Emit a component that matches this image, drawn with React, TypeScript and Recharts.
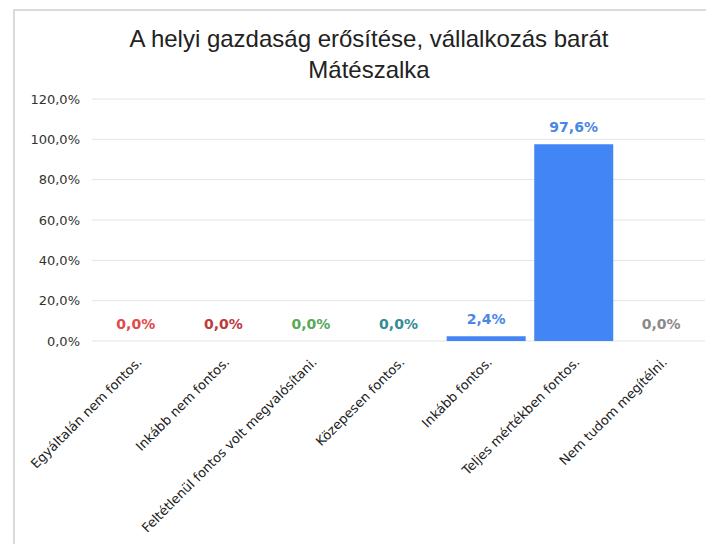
import React from 'react';
import { ComposedChart, Bar, Scatter, XAxis, YAxis, CartesianGrid, Cell } from 'recharts';

const categories = [
  'Egyáltalán nem fontos.',
  'Inkább nem fontos.',
  'Feltétlenül fontos volt megvalósítani.',
  'Közepesen fontos.',
  'Inkább fontos.',
  'Teljes mértékben fontos.',
  'Nem tudom megítélni.',
];
const shares = [0, 0, 0, 0, 2.4, 97.6, 0];
const yTicks = [0, 20, 40, 60, 80, 100, 120];

const barColors = ['#e06060', '#b8403c', '#5aa65a', '#3a8f96', '#4285f4', '#4285f4', '#8a8a8a'];
const labelColors = ['#e04a4a', '#bd3b3a', '#58a858', '#348c94', '#4a86e8', '#4a86e8', '#8a8a8a'];

const data = categories.map((name, i) => ({ name, value: shares[i], color: labelColors[i] }));

const fmt = (v: number) => `${v.toFixed(1).replace('.', ',')}%`;

const XTick = (props: any) => {
  const { x, y, payload } = props;
  return (
    <g transform={`translate(${x + 4},${y + 11})`}>
      <text transform="rotate(-45)" textAnchor="end" fontSize={13} fill="#222" dy={4} fontFamily="'DejaVu Sans', sans-serif">
        {payload.value}
      </text>
    </g>
  );
};

// value labels drawn as a scatter so zero bars get a label too
const ValueLabel = (props: any) => {
  const { cx, cy, payload } = props;
  return (
    <text
      x={cx}
      y={cy - 12}
      textAnchor="middle"
      fontSize={14}
      fontWeight="bold"
      fontFamily="'DejaVu Sans', sans-serif"
      fill={payload.color}
    >
      {fmt(payload.value)}
    </text>
  );
};

const App: React.FC = () => {
  return (
    <div style={{ position: 'absolute', left: 0, top: 0, width: 706, height: 544, background: '#fff', overflow: 'hidden', fontFamily: '"Liberation Sans", Arial, sans-serif' }}>
      <div style={{ position: 'absolute', left: 13, top: 9, width: 800, height: 700, borderLeft: '2px solid #dadada', borderTop: '2px solid #dadada' }} />
      <div style={{ position: 'absolute', left: 369, top: 23, transform: 'translateX(-50%)', whiteSpace: 'nowrap', textAlign: 'center', fontSize: 24, lineHeight: '31px', color: '#222' }}>
        A helyi gazdaság erősítése, vállalkozás barát
        <br />
        Mátészalka
      </div>
      <div style={{ position: 'absolute', left: 0, top: 0 }}>
        <ComposedChart
          width={706}
          height={544}
          data={data}
          margin={{ top: 99, right: 1, bottom: 3, left: 12 }}
          barCategoryGap="5%"
        >
          <CartesianGrid vertical={false} stroke="#e3e3e3" />
          <XAxis
            dataKey="name"
            interval={0}
            tick={<XTick />}
            tickLine={false}
            axisLine={false}
            height={200}
          />
          <YAxis
            domain={[0, 120]}
            ticks={yTicks}
            tickFormatter={fmt}
            tickLine={false}
            axisLine={false}
            tickMargin={6}
            width={80}
            tick={{ fontSize: 13, fill: '#333', fontFamily: "'DejaVu Sans', sans-serif" }}
          />
          <Bar dataKey="value" isAnimationActive={false}>
            {data.map((d, i) => (
              <Cell key={d.name} fill={barColors[i]} />
            ))}
          </Bar>
          <Scatter dataKey="value" isAnimationActive={false} shape={<ValueLabel />} />
        </ComposedChart>
      </div>
    </div>
  );
};

export default App;
